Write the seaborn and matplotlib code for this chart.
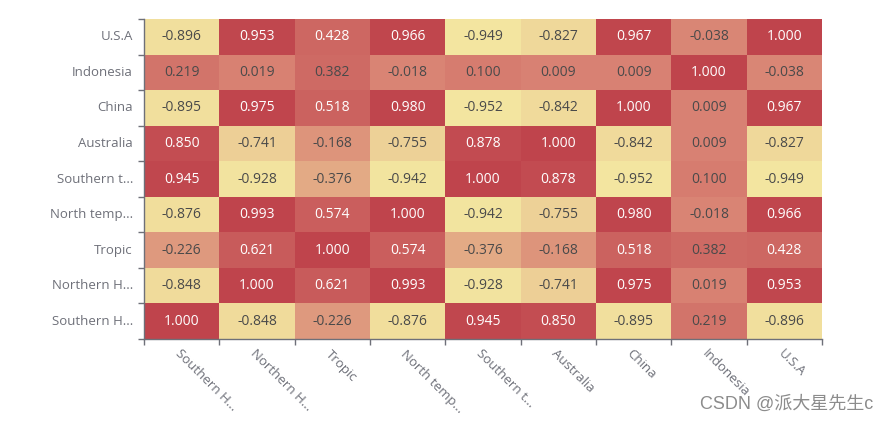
import matplotlib
matplotlib.use("Agg")
import matplotlib.pyplot as plt
import seaborn as sns
import numpy as np
import pandas as pd
from matplotlib.colors import LinearSegmentedColormap

# column order (left to right); rows are drawn bottom-up in the same order
labels = ["Southern H...", "Northern H...", "Tropic", "North temp...", "Southern t...",
          "Australia", "China", "Indonesia", "U.S.A"]

southern_h = [1.000, -0.848, -0.226, -0.876, 0.945, 0.850, -0.895, 0.219, -0.896]
northern_h = [-0.848, 1.000, 0.621, 0.993, -0.928, -0.741, 0.975, 0.019, 0.953]
tropic = [-0.226, 0.621, 1.000, 0.574, -0.376, -0.168, 0.518, 0.382, 0.428]
north_temp = [-0.876, 0.993, 0.574, 1.000, -0.942, -0.755, 0.980, -0.018, 0.966]
southern_t = [0.945, -0.928, -0.376, -0.942, 1.000, 0.878, -0.952, 0.100, -0.949]
australia = [0.850, -0.741, -0.168, -0.755, 0.878, 1.000, -0.842, 0.009, -0.827]
china = [-0.895, 0.975, 0.518, 0.980, -0.952, -0.842, 1.000, 0.009, 0.967]
indonesia = [0.219, 0.019, 0.382, -0.018, 0.100, 0.009, 0.009, 1.000, -0.038]
usa = [-0.896, 0.953, 0.428, 0.966, -0.949, -0.827, 0.967, -0.038, 1.000]

rows = [southern_h, northern_h, tropic, north_temp, southern_t,
        australia, china, indonesia, usa]

# top row of the picture is U.S.A, so flip
df = pd.DataFrame(rows[::-1], index=labels[::-1], columns=labels)

axis_grey = "#6e7079"
cmap = LinearSegmentedColormap.from_list("echarts", ["#f4eaa2", "#d88273", "#bf444c"])

fig = plt.figure(figsize=(8.89, 4.23), dpi=100)
ax = fig.add_axes([144 / 889, 1 - 339 / 423, 678 / 889, 320 / 423])

sns.heatmap(df, ax=ax, cmap=cmap, vmin=-1, vmax=1, cbar=False,
            annot=True, fmt=".3f", annot_kws={"fontsize": 10, "family": "Open Sans"})

# label colour: white on the dark red cells, dark grey elsewhere
vals = df.values.flatten()
for txt, v in zip(ax.texts, vals):
    txt.set_color("white" if v > 0.4 else "#4a4a4a")

# ticks at the cell boundaries, labels at centres
n = len(labels)
ax.set_xticks(np.arange(n) + 0.5)
ax.set_yticks(np.arange(n) + 0.5)
ax.set_xticklabels(labels, rotation=-45, ha="left", va="top",
                   rotation_mode="anchor", color=axis_grey, fontsize=9.5, family="Open Sans")
ax.set_yticklabels(df.index, rotation=0, color=axis_grey, fontsize=9.5, family="Open Sans")
ax.tick_params(axis="both", which="major", length=0)
ax.tick_params(axis="x", which="major", pad=6)
ax.tick_params(axis="y", which="major", pad=8)
ax.set_xticks(np.arange(n + 1), minor=True)
ax.set_yticks(np.arange(n + 1), minor=True)
ax.tick_params(axis="both", which="minor", length=4, width=1, color=axis_grey)
ax.set_xlabel("")
ax.set_ylabel("")

for side in ["left", "bottom"]:
    ax.spines[side].set_visible(True)
    ax.spines[side].set_color(axis_grey)
    ax.spines[side].set_linewidth(1)

# watermark
fig.text(873 / 889, 1 - 404 / 423, "CSDN @派大星先生c", ha="right", va="center",
         fontsize=13, color="#8c8c8c", family=["Liberation Sans", "Noto Sans CJK SC"])

fig.savefig("out.png", dpi=100)
